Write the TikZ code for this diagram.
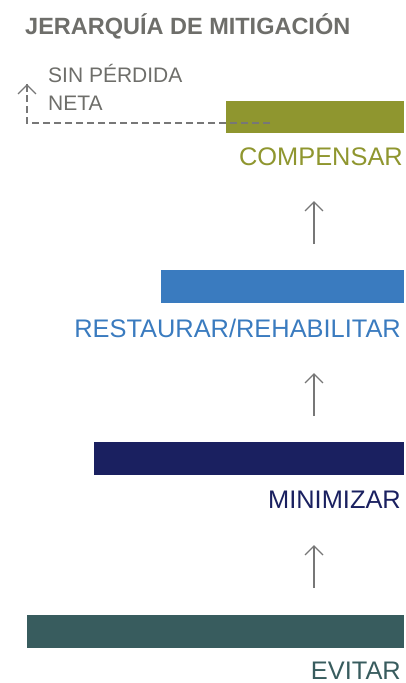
\documentclass[tikz,border=0pt]{standalone}
\usepackage{fontspec}
\setmainfont{Liberation Sans}
\usetikzlibrary{arrows.meta}
\definecolor{olive}{HTML}{8F962F}
\definecolor{rblue}{HTML}{3A7BBF}
\definecolor{navy}{HTML}{1A2060}
\definecolor{teal2}{HTML}{385C5E}
\definecolor{tgray}{HTML}{6E6E6A}
\definecolor{agray}{HTML}{777777}
\tikzset{
  lbl/.style={text=#1, anchor=base east, inner sep=0pt, font=\fontsize{25.4}{30}\selectfont},
  uparrow/.style={draw=agray, line width=1.4pt, -{Straight Barb[length=9pt,width=18pt,line width=1.4pt]}},
}
\begin{document}
\begin{tikzpicture}[x=1pt,y=-1pt]
\useasboundingbox (0,0) rectangle (406,683);
% title
\node[anchor=base west, inner sep=0pt, text=tgray, font=\bfseries\fontsize{23.5}{28}\selectfont] (title) at (25,34) {JERARQUÍA DE MITIGACIÓN};
% bars
\fill[olive] (226,101) rectangle (404,133);
\coordinate (cbar) at (270,123);
\node[lbl=olive] (comp) at (403,165) {COMPENSAR};
\fill[rblue] (161,270) rectangle (404,303);
\node[lbl=rblue] (rest) at (401,337) {RESTAURAR/REHABILITAR};
\fill[navy] (94,442) rectangle (404,475);
\node[lbl=navy] (mini) at (401,508) {MINIMIZAR};
\fill[teal2] (27,615) rectangle (404,648);
\node[lbl=teal2] (evit) at (401,679) {EVITAR};
% net loss label
\node[anchor=base west, inner sep=0pt, text=tgray, align=left, font=\fontsize{21}{28}\selectfont] (snp) at (48,110) {SIN PÉRDIDA\\NETA};
% arrows
\coordinate (a1s) at (314,244); \coordinate (a1e) at (314,201);
\coordinate (a2s) at (314,416); \coordinate (a2e) at (314,373);
\coordinate (a3s) at (314,588); \coordinate (a3e) at (314,545);
\draw[uparrow] (a1s) -- (a1e);
\draw[uparrow] (a2s) -- (a2e);
\draw[uparrow] (a3s) -- (a3e);
\coordinate (dcorner) at (27,123);
\coordinate (dtop) at (27,84);
\draw[agray, line width=1.4pt, dash pattern=on 7pt off 4pt] (cbar) -- (dcorner) -- (dtop);
\draw[agray, line width=1.4pt, -{Straight Barb[length=9pt,width=18pt,line width=1.4pt]}] ([yshift=-8pt]dtop) -- (dtop);
\end{tikzpicture}
\end{document}
